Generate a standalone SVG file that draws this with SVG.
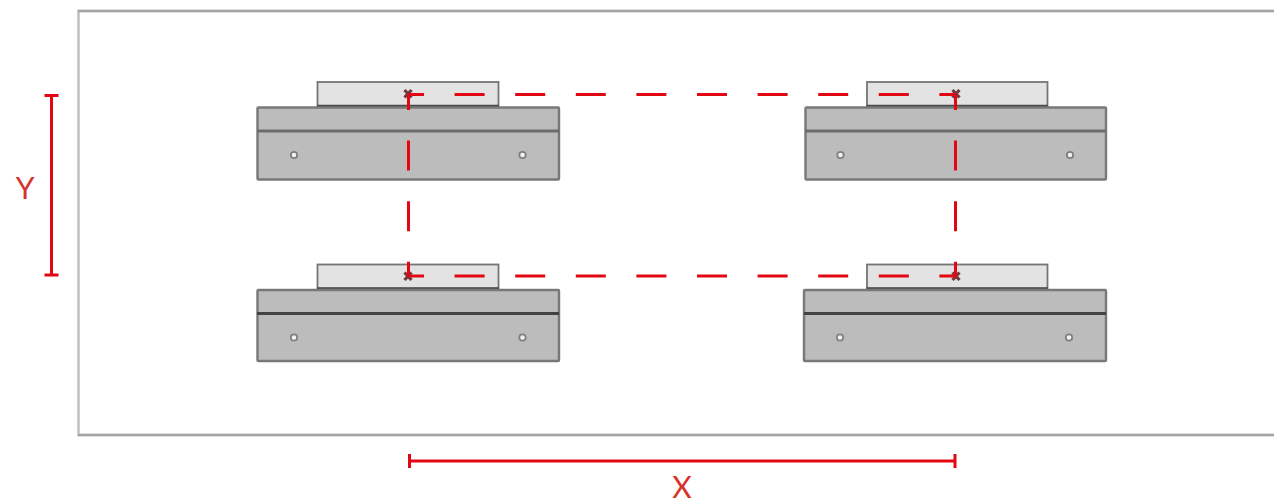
<svg xmlns="http://www.w3.org/2000/svg" width="1274" height="504" viewBox="0 0 1274 504">
<defs>
<filter id="soft" x="-5%" y="-5%" width="110%" height="110%"><feGaussianBlur stdDeviation="0.55"/></filter>
<style>
.frame{fill:#fff;stroke:#bdbdbd;stroke-width:2.4}
.edge{stroke:#a6a6a6;stroke-width:2.4;fill:none}
.plate{fill:#e3e3e3;stroke:#757575;stroke-width:1.8}
.under{stroke:#4a4a4a;stroke-width:2.4;fill:none}
.body{fill:#bcbcbc;stroke:#787878;stroke-width:2.4}
.rib{stroke:#6c6c6c;stroke-width:3;fill:none}
.rib2{stroke:#434343;stroke-width:3;fill:none}
.hole{fill:#f2f2f2;stroke:#808080;stroke-width:1.8}
.soft{filter:url(#soft)}
.red{stroke:#e30613;fill:none;stroke-width:3}
.dash{stroke-dasharray:30 30.6}
.star{stroke:#6e3a3e;stroke-width:3.200;fill:none}
text{font-family:"Lato","Open Sans","Liberation Sans",sans-serif;font-size:30px;fill:#d8322c}
</style>
</defs>
<g class="soft">
<rect class="frame" x="78.500" y="11" width="1300" height="424"/>
<path class="edge" d="M78 11H1274M78 435H1274"/>
</g>
<g id="node-top-left" class="soft">
<rect class="plate" x="317.500" y="82" width="181" height="24"/>
<path class="under" d="M317 106H499"/>
<rect class="body" x="257.500" y="107.500" width="301.500" height="72" rx="1"/>
<path class="rib" d="M257 131H559"/>
<circle class="hole" cx="294" cy="155" r="3.200"/>
<circle class="hole" cx="522.500" cy="155" r="3.200"/>
</g>
<g id="node-top-right" class="soft">
<rect class="plate" x="867" y="82" width="180.500" height="24"/>
<path class="under" d="M866.500 106H1048"/>
<rect class="body" x="805.500" y="107.500" width="300.500" height="72" rx="1"/>
<path class="rib" d="M805 131H1106"/>
<circle class="hole" cx="840.500" cy="155" r="3.200"/>
<circle class="hole" cx="1070" cy="155" r="3.200"/>
</g>
<g id="node-bottom-left" class="soft">
<rect class="plate" x="317.500" y="264.500" width="181" height="24"/>
<path class="under" d="M317 288.500H499"/>
<rect class="body" x="257.500" y="290" width="301.500" height="71" rx="1"/>
<path class="rib2" d="M257 313.500H559"/>
<circle class="hole" cx="294" cy="337.500" r="3.200"/>
<circle class="hole" cx="522.500" cy="337.500" r="3.200"/>
</g>
<g id="node-bottom-right" class="soft">
<rect class="plate" x="867" y="264.500" width="180.500" height="24"/>
<path class="under" d="M866.500 288.500H1048"/>
<rect class="body" x="804" y="290" width="302" height="71" rx="1"/>
<path class="rib2" d="M804 313.500H1106"/>
<circle class="hole" cx="840" cy="337.500" r="3.200"/>
<circle class="hole" cx="1069" cy="337.500" r="3.200"/>
</g>
<g id="connectors">
<path class="star soft" d="M404.500 90l7 7.500m0-7.500l-7 7.500M952.500 90l7 7.500m0-7.500l-7 7.500M404.500 272.500l7 7.500m0-7.500l-7 7.500M952.500 272.500l7 7.500m0-7.500l-7 7.500"/>
<path class="red dash" stroke-dashoffset="14" d="M408 94.500H956"/>
<path class="red dash" stroke-dashoffset="14" d="M408 276H956"/>
<path class="red dash" stroke-dashoffset="14" d="M408.500 94V277"/>
<path class="red dash" stroke-dashoffset="14" d="M955.500 94V277"/>
<path class="red" d="M51.500 95V275M44.500 95.500H58.500M44.500 275H58.500"/>
<path class="red" d="M409 461H955M409.500 454V468M955 454V468"/>
</g>
<text x="25" y="199" text-anchor="middle">Y</text>
<text x="682" y="497.500" text-anchor="middle">X</text>
</svg>
